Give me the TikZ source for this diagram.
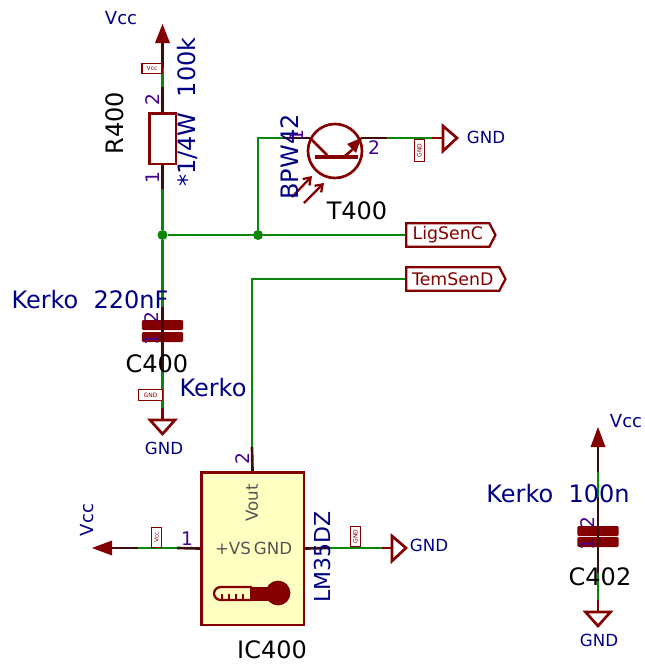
\documentclass[tikz,border=0pt]{standalone}
\usepackage{fontspec}
\usepackage{xcolor}
\usetikzlibrary{arrows.meta, positioning, shapes.symbols}
\newfontfamily\kifont[WordSpace=2.0]{DejaVu Sans}
\definecolor{wiregreen}{RGB}{10,135,10}
\definecolor{symred}{RGB}{132,0,0}
\definecolor{pindark}{RGB}{62,14,14}
\definecolor{valblue}{RGB}{0,0,132}
\definecolor{pinpurple}{RGB}{66,0,140}
\definecolor{namegray}{RGB}{84,84,84}
\definecolor{bodyyellow}{RGB}{255,255,194}
\tikzset{x=0.75pt,y=-0.75pt,
         every node/.style={font=\kifont},
         wire/.style={draw=wiregreen,line width=2pt},
         pinline/.style={draw=pindark,line width=2pt},
         symline/.style={draw=symred,line width=2pt},
         junction/.style={circle,fill=wiregreen,inner sep=0pt,minimum size=7.5pt},
         plate/.style={fill=symred,rounded corners=1pt,inner sep=0pt,minimum width=31pt,minimum height=7.5pt},
         hier/.style={signal,signal to=east,signal pointer angle=125,draw=symred,line width=1.7pt,fill=white,
                      text=symred,inner sep=0pt,minimum height=17.5pt,anchor=west,font=\kifont\fontsize{13}{14}\selectfont},
         refname/.style={text=black,inner sep=0pt,font=\kifont\fontsize{18}{19}\selectfont},
         valname/.style={text=valblue,inner sep=0pt,font=\kifont\fontsize{18}{19}\selectfont},
         powname/.style={text=valblue,inner sep=0pt,font=\kifont\fontsize{13.5}{14}\selectfont},
         gndname/.style={text=valblue,inner sep=0pt,font=\kifont\fontsize{12.5}{13}\selectfont},
         pinnum/.style={text=pinpurple,inner sep=0pt,font=\kifont\fontsize{14}{15}\selectfont},
         pinname/.style={text=namegray,inner sep=0pt,font=\kifont\fontsize{12.5}{13}\selectfont},
         tinybox/.style={draw=symred,line width=0.9pt,fill=white,text=symred,inner sep=0pt,
                         font=\kifont\fontsize{4.5}{5}\selectfont}}

\begin{document}
\begin{tikzpicture}
\useasboundingbox (0,0) rectangle (644,664);

% R400 and the light sensor
\node[draw=symred,line width=2pt,fill=white,minimum width=20pt,minimum height=38pt,inner sep=0pt] (r400) at (162.5,138.5) {};
\node[circle,draw=symred,line width=2pt,minimum size=40.5pt,inner sep=0pt] (t400) at (335,151) {};
\coordinate (vccA) at (162.5,43);
\coordinate (vccAa) at (162.5,68);
\coordinate (vccAb) at (162.5,87);
\coordinate (rLow) at (162.5,189);
\node[junction] (jctA) at (162.5,235) {};
\node[junction] (jctB) at (258,235) {};
\coordinate (baseCor) at (258,138);
\coordinate (baseEnd) at (283,138);
\coordinate (colL) at (310,138);
\coordinate (colR) at (361,138);
\coordinate (emitEnd) at (387,138);
\coordinate (gndT) at (432,138);
\coordinate (gndTs) at (443,138);
\node[hier,minimum width=67pt] (ligsen) at (405,235) {LigSenC};
\node[hier,minimum width=74.5pt] (temsen) at (405,279) {TemSenD};

% C400
\coordinate (cApin) at (162.5,307);
\coordinate (cAlow) at (162.5,370);
\coordinate (gndA) at (162.5,408);
\coordinate (gndAs) at (162.5,420);
\node[plate] (cAup) at (162.5,325) {};
\node[plate] (cAdn) at (162.5,337) {};

% IC400
\node[draw=symred,line width=2pt,fill=bodyyellow,minimum width=77pt,minimum height=114.5pt,inner sep=0pt] (ic400) at (252.5,548.5) {};
\coordinate (outCor) at (252,279);
\coordinate (outPin) at (252,447);
\coordinate (vsA) at (177,548);
\coordinate (vsB) at (138,548);
\coordinate (vsC) at (112,548);
\coordinate (icGa) at (330,548);
\coordinate (icGb) at (382,548);
\coordinate (icGs) at (392,548);

% C402
\coordinate (vccC) at (598,447);
\coordinate (vccCa) at (598,472);
\coordinate (vccCb) at (598,497);
\coordinate (cClow) at (598,573);
\coordinate (gndC) at (598,600);
\coordinate (gndCs) at (598,612);
\node[plate] (cCup) at (598,531) {};
\node[plate] (cCdn) at (598,542) {};

% wires
\draw[wire] (vccAa) -- (vccAb);
\draw[wire] (rLow) -- (jctA) -- (cApin);
\draw[wire] (cAlow) -- (gndA);
\draw[wire] (jctA) -- (jctB) -- (ligsen.west);
\draw[wire] (jctB) -- (baseCor) -- (baseEnd);
\draw[wire] (emitEnd) -- (gndT);
\draw[wire] (temsen.west) -- (outCor) -- (outPin);
\draw[wire] (vsA) -- (vsB);
\draw[wire] (icGa) -- (icGb);
\draw[wire] (vccCa) -- (vccCb);
\draw[wire] (cClow) -- (gndC);

% pins
\draw[pinline] (vccA) -- (vccAa);
\draw[pinline] (vccAb) -- (r400.north);
\draw[pinline] (r400.south) -- (rLow);
\draw[pinline] (baseEnd) -- (colL);
\draw[pinline] (colR) -- (emitEnd);
\draw[pinline] (cApin) -- (cAlow);
\draw[pinline] (outPin) -- (ic400.north);
\draw[pinline] (ic400.west) -- (vsA);
\draw[pinline] (vsB) -- (vsC);
\draw[pinline] (ic400.east) -- (icGa);
\draw[pinline] (vccC) -- (vccCa);
\draw[pinline] (vccCb) -- (cClow);

% power symbols
\fill[symred] (vccA) ++(-7.5,0) -- (162.5,24) -- ++(7.5,19) -- cycle;
\fill[symred] (vccC) ++(-7.5,0) -- (598,427) -- ++(7.5,20) -- cycle;
\fill[symred] (vsC) ++(0,-7.5) -- (92,548) -- ++(20,7.5) -- cycle;
\draw[symline] (gndT) -- (gndTs);
\draw[symline,line join=miter] (gndTs) ++(0,-12) -- ++(14,12) -- ++(-14,13) -- cycle;
\draw[symline] (icGb) -- (icGs);
\draw[symline,line join=miter] (icGs) ++(0,-12) -- ++(14,12) -- ++(-14,13) -- cycle;
\draw[symline] (gndA) -- (gndAs);
\draw[symline,line join=miter] (gndAs) ++(-12.5,0) -- ++(25,0) -- ++(-12.5,14) -- cycle;
\draw[symline] (gndC) -- (gndCs);
\draw[symline,line join=miter] (gndCs) ++(-12.5,0) -- ++(25,0) -- ++(-12.5,14) -- cycle;

% transistor
\draw[symred,line width=3.5pt] (315,157) -- (358,157);
\draw[symline] (colL) -- (327,155);
\draw[symline] (colR) -- (352,150);
\draw[symline] (352,150) -- (345,156);
\fill[symred] (361,138) -- (356,153) -- (347,144) -- cycle;
\draw[symred,line width=1.7pt,-{Straight Barb[length=5pt,width=7pt]}] (292,197) -- (312,176);
\draw[symred,line width=1.7pt,-{Straight Barb[length=5pt,width=7pt]}] (304,203) -- (324,183);

% thermometer
\draw[symline,rounded corners=5pt,line width=1.7pt] (252,587) -- (214,587) -- (214,600) -- (252,600);
\fill[symred] (250,586.5) rectangle (275,600.5);
\fill[symred] (278,593) circle (9.3pt);
\foreach \tickx in {222,229,236,243}
  \draw[symred,line width=1.1pt] (\tickx,600) -- (\tickx,594);

% tiny net labels
\node[tinybox,minimum width=15pt,minimum height=8pt] (lblVccA) at (152,68.5) {Vcc};
\node[tinybox,rotate=90,minimum width=17pt,minimum height=8pt] (lblGndT) at (419.5,150.5) {GND};
\node[tinybox,minimum width=17.5pt,minimum height=8pt] (lblGndA) at (150.5,395) {GND};
\node[tinybox,rotate=90,minimum width=14.5pt,minimum height=8pt] (lblVcc) at (156.5,537.5) {Vcc};
\node[tinybox,rotate=90,minimum width=15.5pt,minimum height=8pt] (lblGndI) at (355.5,536.5) {GND};

% texts
\node[refname,rotate=90] (txtR) at (115,123) {R400};
\node[valname,rotate=90] (txtRv) at (187,112) {*1/4W 100k};
\node[pinnum,rotate=90] (pinRb) at (153,100) {2};
\node[pinnum,rotate=90] (pinRa) at (153,178) {1};
\node[powname] (txtVccA) at (121,18) {Vcc};
\node[valname,rotate=90] (txtT) at (290,157) {BPW42};
\node[pinnum,rotate=90] (pinTa) at (297,136) {1};
\node[pinnum] (pinTb) at (374,148) {2};
\node[refname] (txtTn) at (357,211) {T400};
\node[gndname] (txtGndT) at (486,137) {GND};
\node[valname] (txtCa) at (90,300) {Kerko 220nF};
\node[pinnum,rotate=90] (pinCb) at (152,318) {2};
\node[pinnum,rotate=90] (pinCa) at (152,340) {1};
\node[refname] (txtCan) at (157,364) {C400};
\node[valname] (txtIc) at (213,388) {Kerko};
\node[gndname] (txtGndA) at (164,448) {GND};
\node[pinnum,rotate=90] (pinOut) at (243,459) {2};
\node[pinname,rotate=90] (txtVout) at (252,503) {Vout};
\node[pinname] (txtVs) at (233,548) {+VS};
\node[pinname] (txtGndP) at (273,548) {GND};
\node[pinnum] (pinVs) at (187,539) {1};
\node[powname,rotate=90] (txtVccI) at (87,520) {Vcc};
\node[valname,rotate=90,font=\kifont\fontsize{16.5}{17}\selectfont] (txtLm) at (322,557) {LM35DZ};
\node[gndname] (txtGndI) at (429,545) {GND};
\node[refname] (txtIcn) at (272,650) {IC400};
\node[valname] (txtCc) at (558,494) {Kerko 100n};
\node[pinnum,rotate=90] (pinCcb) at (588,523) {2};
\node[pinnum,rotate=90] (pinCca) at (588,545) {1};
\node[refname] (txtCcn) at (600,577) {C402};
\node[powname] (txtVccC) at (626,421) {Vcc};
\node[gndname] (txtGndC) at (599,640) {GND};
\end{tikzpicture}
\end{document}
